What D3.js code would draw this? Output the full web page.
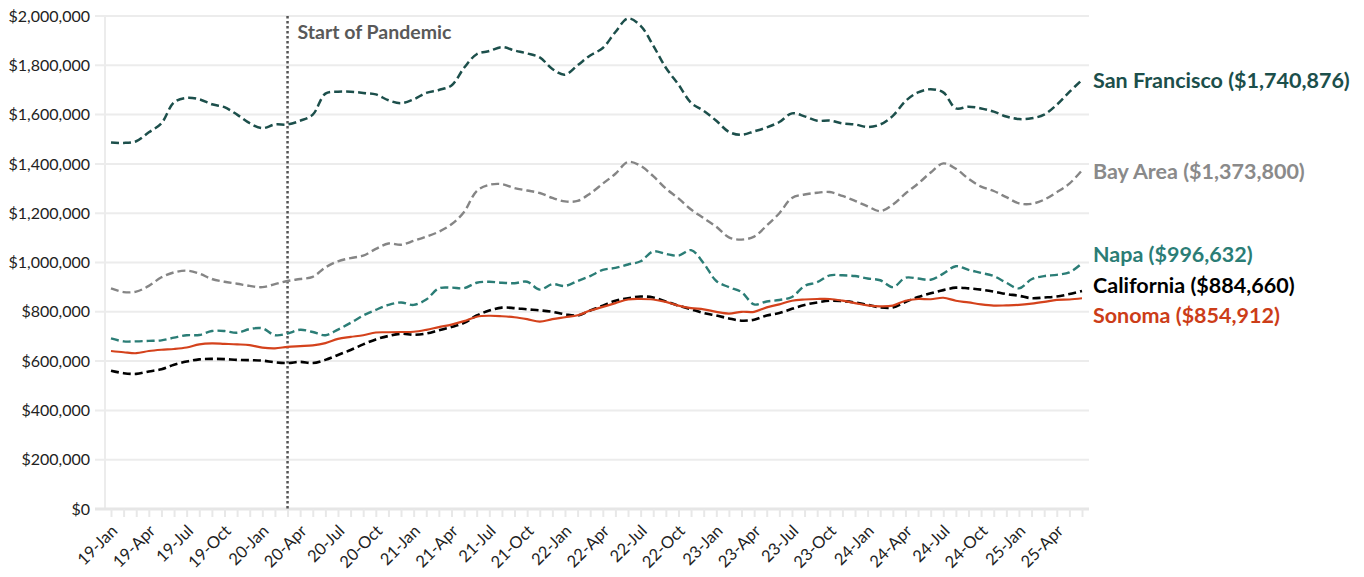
<!DOCTYPE html>
<html><head><meta charset="utf-8">
<script src="https://cdn.jsdelivr.net/npm/d3@7"></script>
<style>
html,body{margin:0;padding:0;background:#fff;}
svg{display:block;font-family:Lato,"Noto Sans",sans-serif;}
</style></head>
<body>
<svg id="chart" width="1364" height="577"></svg>
<script>
const months = [
"19-Jan","19-Feb","19-Mar","19-Apr","19-May","19-Jun","19-Jul","19-Aug","19-Sep","19-Oct","19-Nov","19-Dec",
"20-Jan","20-Feb","20-Mar","20-Apr","20-May","20-Jun","20-Jul","20-Aug","20-Sep","20-Oct","20-Nov","20-Dec",
"21-Jan","21-Feb","21-Mar","21-Apr","21-May","21-Jun","21-Jul","21-Aug","21-Sep","21-Oct","21-Nov","21-Dec",
"22-Jan","22-Feb","22-Mar","22-Apr","22-May","22-Jun","22-Jul","22-Aug","22-Sep","22-Oct","22-Nov","22-Dec",
"23-Jan","23-Feb","23-Mar","23-Apr","23-May","23-Jun","23-Jul","23-Aug","23-Sep","23-Oct","23-Nov","23-Dec",
"24-Jan","24-Feb","24-Mar","24-Apr","24-May","24-Jun","24-Jul","24-Aug","24-Sep","24-Oct","24-Nov","24-Dec",
"25-Jan","25-Feb","25-Mar","25-Apr","25-May","25-Jun"];
const tickLabels = ["19-Jan","19-Apr","19-Jul","19-Oct","20-Jan","20-Apr","20-Jul","20-Oct","21-Jan","21-Apr","21-Jul","21-Oct",
"22-Jan","22-Apr","22-Jul","22-Oct","23-Jan","23-Apr","23-Jul","23-Oct","24-Jan","24-Apr","24-Jul","24-Oct","25-Jan","25-Apr"];
const yTicks = [0,200000,400000,600000,800000,1000000,1200000,1400000,1600000,1800000,2000000];
const pandemicMonth = "20-Mar";

// values in thousands of dollars
const sanFrancisco = [1487,1485,1492,1528,1565,1650,1668,1662,1642,1630,1600,1565,1545,1560,1560,1575,1600,1685,1693,1693,1688,1682,1658,1646,1662,1688,1700,1718,1790,1845,1858,1874,1860,1848,1832,1785,1762,1800,1840,1870,1935,1990,1960,1880,1790,1722,1648,1615,1575,1530,1518,1532,1548,1570,1605,1593,1575,1576,1564,1560,1550,1560,1595,1655,1690,1703,1690,1625,1632,1625,1612,1592,1582,1585,1600,1640,1692,1740.876];
const bayArea = [895,880,882,905,940,960,967,955,933,922,914,905,900,912,925,933,942,980,1005,1018,1028,1055,1077,1072,1088,1105,1125,1155,1205,1290,1315,1318,1302,1292,1282,1262,1248,1250,1280,1320,1360,1408,1392,1350,1300,1260,1215,1180,1145,1102,1093,1105,1150,1200,1262,1276,1283,1286,1270,1250,1228,1208,1235,1280,1320,1365,1402,1380,1340,1308,1290,1265,1240,1238,1255,1285,1320,1373.8];
const napa = [692,680,680,682,684,695,705,706,722,722,715,730,733,705,712,727,718,705,728,755,785,808,828,838,828,850,895,898,896,918,922,918,916,922,890,912,905,925,945,970,978,992,1005,1045,1035,1028,1050,997,925,900,880,830,842,848,860,905,920,948,948,945,935,928,900,938,935,930,955,985,970,958,945,918,895,932,945,950,960,996.632];
const california = [561,551,548,558,567,585,598,607,609,608,605,604,602,595,592,597,592,605,625,645,668,688,702,711,707,712,725,738,755,785,805,817,815,810,806,800,790,785,805,825,845,855,862,858,842,825,810,795,785,773,764,768,785,795,812,828,838,845,843,838,828,818,818,840,860,875,888,898,895,890,882,872,865,855,858,862,872,884.66];
const sonoma = [641,636,632,641,646,649,655,668,672,670,668,665,655,652,658,661,664,673,690,698,705,716,717,718,719,727,738,748,762,780,784,782,778,770,760,770,778,786,805,820,835,850,852,850,840,825,815,810,800,793,800,800,818,830,845,850,852,852,845,835,826,822,825,845,852,851,857,845,838,830,825,826,828,833,840,848,850,854.912];

const seriesNames = ["San Francisco","Bay Area","Napa","California","Sonoma"];
const seriesValues = [sanFrancisco, bayArea, napa, california, sonoma];
const seriesColors = ["#1c4f4b","#858585","#2b7d76","#000000","#d4421c"];
const labelColors = ["#1c4f4b","#8a8a8a","#2b7d76","#000000","#cc3d18"];
const seriesDash = ["8,4","8,4","8,4","8,4",null];
const seriesWidth = [2.5,2.4,2.4,2.6,2.2];
const labelY = [80,171,254,285,315];

const svg = d3.select("#chart");
const x = d3.scalePoint().domain(months).range([111,1082]);
const y = d3.scaleLinear().domain([0,2000000]).range([509,16]);

// gridlines
svg.append("g").selectAll("line").data(yTicks.filter(d=>d>0)).join("line")
  .attr("x1",95).attr("x2",1089).attr("y1",d=>y(d)).attr("y2",d=>y(d))
  .attr("stroke","#ececec").attr("stroke-width",2);
// left axis line
svg.append("line").attr("x1",105).attr("x2",105).attr("y1",y(2000000)).attr("y2",y(0))
  .attr("stroke","#ececec").attr("stroke-width",2);

// x axis
const xAxis = d3.axisBottom(x).tickSize(8).tickFormat(d=>tickLabels.includes(d)?d:"");
const gx = svg.append("g").attr("transform",`translate(0,${y(0)})`).call(xAxis);
gx.select(".domain").attr("d","M95,0H1089").attr("stroke","#e6e6e6").attr("stroke-width",3);
gx.selectAll(".tick line").attr("stroke","#e8e8e8").attr("stroke-width",2);
gx.selectAll(".tick text")
  .attr("font-size",16.5).attr("fill","#222").attr("font-family","Lato, sans-serif")
  .attr("text-anchor","end").attr("dy",null).attr("y",0)
  .attr("transform","translate(7,23) rotate(-45)");

// y axis labels
const yAxis = d3.axisLeft(y).tickValues(yTicks).tickSize(0).tickPadding(0)
  .tickFormat(d=>"$"+d3.format(",")(d));
const gy = svg.append("g").attr("transform","translate(90,0)").call(yAxis);
gy.select(".domain").remove();
gy.selectAll(".tick text").attr("font-size",16).attr("fill","#222").attr("font-family","Lato, sans-serif");

// pandemic line
svg.append("line").attr("x1",x(pandemicMonth)).attr("x2",x(pandemicMonth))
  .attr("y1",y(2000000)).attr("y2",y(0))
  .attr("stroke","#555").attr("stroke-width",2.5).attr("stroke-dasharray","2.5,2.5");
svg.append("text").attr("x",x(pandemicMonth)+10).attr("y",39)
  .attr("font-size",19.5).attr("font-weight",700).attr("fill","#595959").text("Start of Pandemic");

// lines
const line = d3.line().x((d,i)=>x(months[i])).y(d=>y(d*1000)).curve(d3.curveCatmullRom.alpha(0.5));
seriesValues.forEach((vals,k)=>{
  svg.append("path").datum(vals).attr("d",line).attr("fill","none")
    .attr("stroke",seriesColors[k]).attr("stroke-width",seriesWidth[k])
    .attr("stroke-dasharray",seriesDash[k]);
});

// labels
seriesValues.forEach((vals,k)=>{
  const last = Math.round(vals[vals.length-1]*1000);
  svg.append("text").attr("x",1093).attr("y",labelY[k]).attr("dy","0.35em")
    .attr("font-size",21.5).attr("font-weight",700).attr("fill",labelColors[k])
    .text(`${seriesNames[k]} ($${d3.format(",")(last)})`);
});
</script>
</body></html>
